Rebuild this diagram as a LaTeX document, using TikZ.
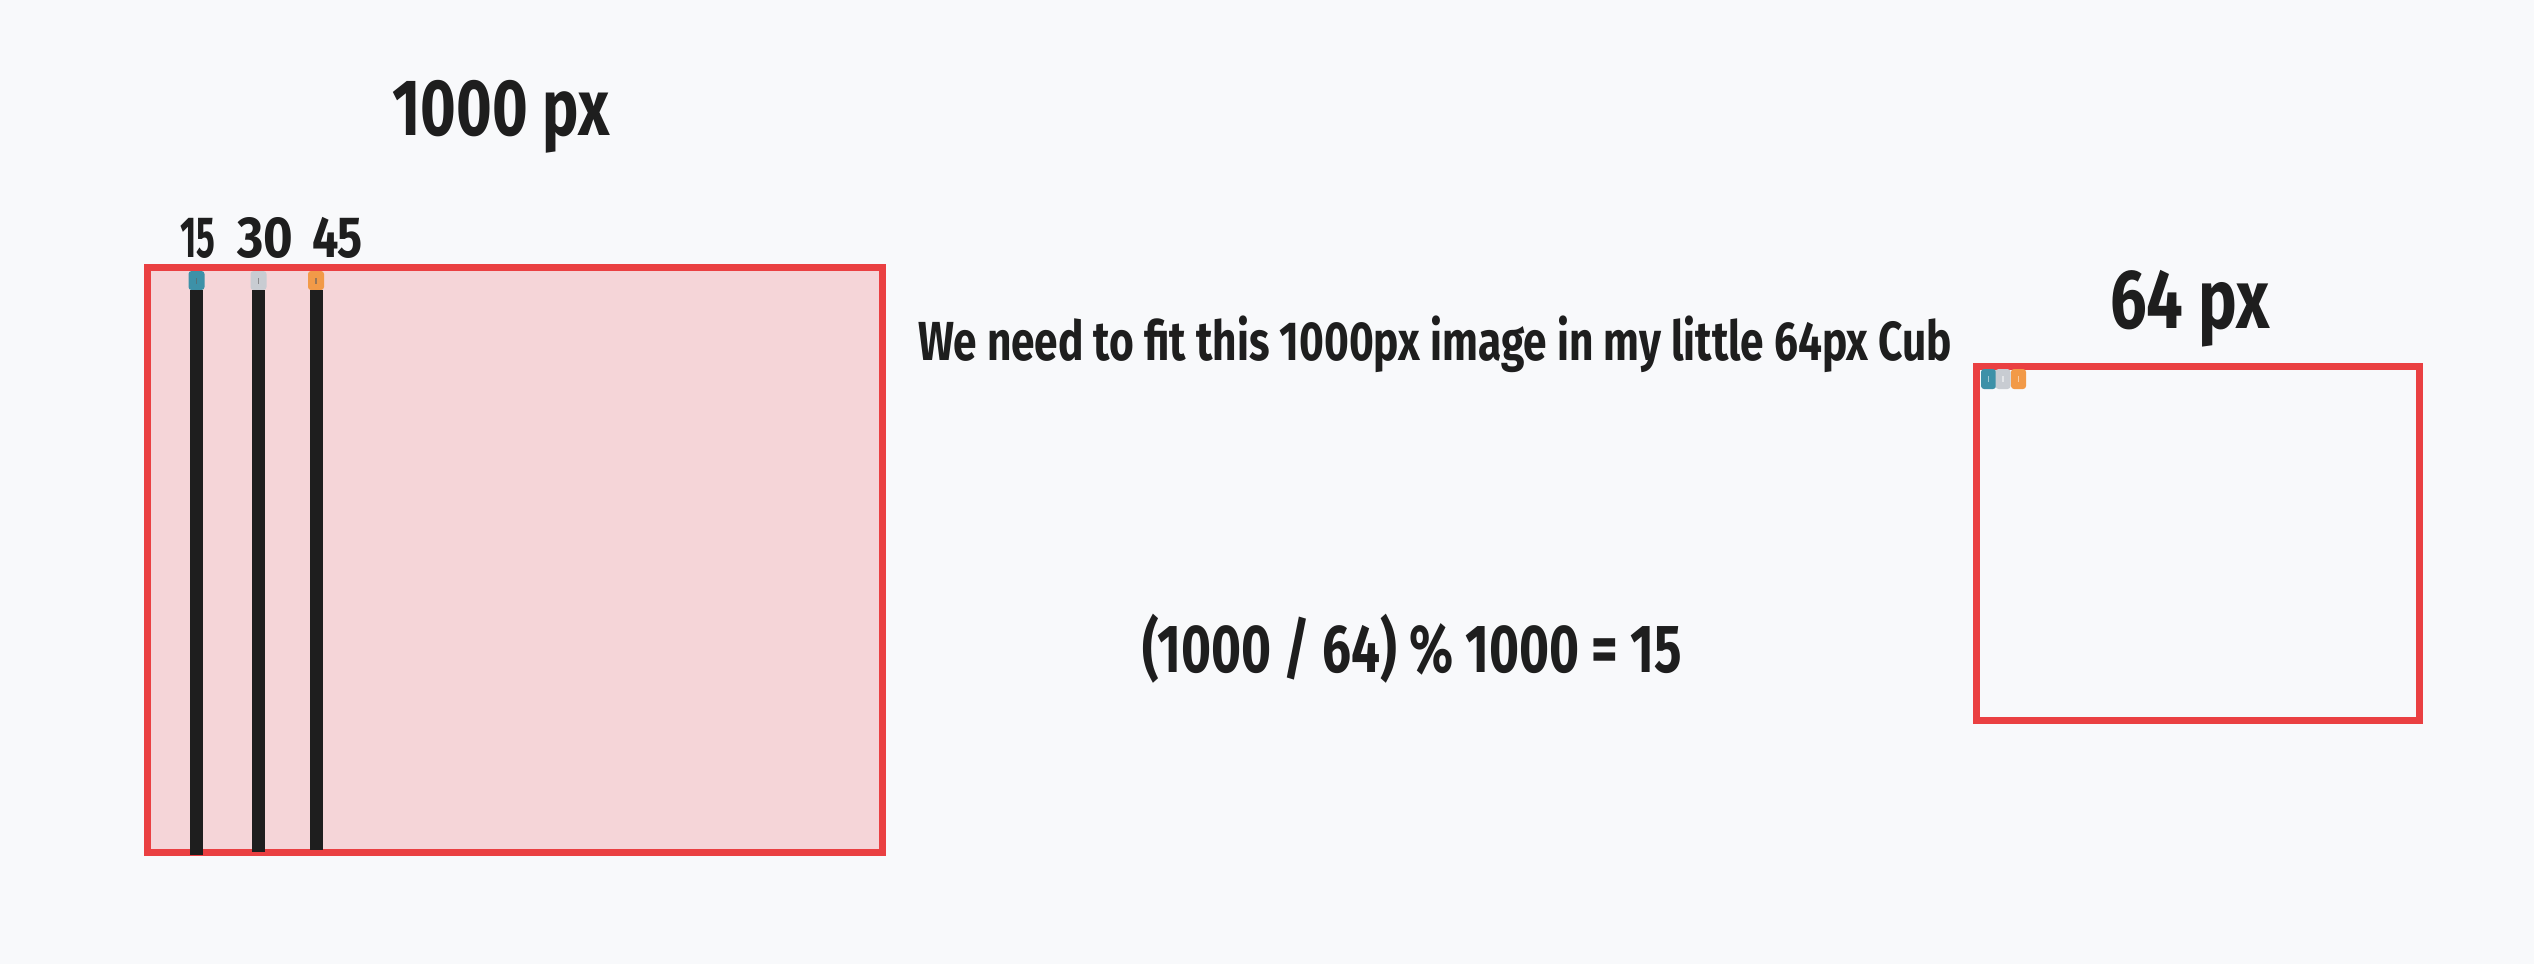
\documentclass[tikz,border=0pt]{standalone}
\usepackage{fontspec}
\usepackage{graphicx}
\newfontfamily\hand{Fira Sans}
\definecolor{bg}{HTML}{F8F9FB}
\definecolor{redline}{HTML}{EA4042}
\definecolor{pinkfill}{HTML}{F5D5D8}
\definecolor{ink}{HTML}{1E1E1E}
\definecolor{tealc}{HTML}{3D91A8}
\definecolor{grayc}{HTML}{C8CCD2}
\definecolor{orangec}{HTML}{F29A48}
\newcommand\fitw[3]{\resizebox{#1}{\height}{\fontsize{#2}{#2}\selectfont\hand\bfseries #3}}
\tikzset{
  frame/.style={draw=redline, line width=7pt, inner sep=0pt, outer sep=0pt},
  pix/.style={rounded corners=3pt, inner sep=0pt, outer sep=0pt, minimum width=16pt, minimum height=19pt},
  bar/.style={draw=ink, line width=13pt, line cap=butt},
  label/.style={text=ink, inner sep=0pt, anchor=base},
  tick/.style={line width=1.2pt}
}
\begin{document}
\begin{tikzpicture}[x=1pt,y=-1pt]
\fill[bg] (0,0) rectangle (2534,964);
\useasboundingbox (0,0) rectangle (2534,964);

% big image frame
\node[frame, fill=pinkfill, minimum width=735pt, minimum height=585pt] (big) at (515,560) {};

% pixel samples on big image
\node[pix, fill=tealc] (s1) at (196.5,280.5) {};
\node[pix, fill=grayc] (s2) at (258.5,280.5) {};
\node[pix, fill=orangec] (s3) at (316,280.5) {};
\coordinate (e1) at (196.5,855);
\coordinate (e2) at (258.5,852);
\coordinate (e3) at (316,850);
\draw[bar] (s1.south) -- (e1);
\draw[bar] (s2.south) -- (e2);
\draw[bar] (s3.south) -- (e3);
\foreach \s in {s1,s2,s3}{\draw[tick, ink!70, opacity=0.6] ([yshift=-3pt]\s.center) -- ([yshift=3pt]\s.center);}

% small frame
\node[frame, minimum width=443pt, minimum height=354pt] (small) at (2198,543.5) {};
\node[pix, fill=tealc, minimum width=15pt, minimum height=20pt] (t1) at (1988.5,379) {};
\node[pix, fill=grayc, minimum width=15pt, minimum height=20pt] (t2) at (2003,379) {};
\node[pix, fill=orangec, minimum width=15pt, minimum height=20pt] (t3) at (2018.5,379) {};
\foreach \s in {t1,t2,t3}{\draw[tick, white, opacity=0.5] ([yshift=-3pt]\s.center) -- ([yshift=3pt]\s.center);}

% labels
\node[label] (l1000) at (501,135) {\fitw{217pt}{80}{1000 px}};
\node[label] (l64) at (2190,328) {\fitw{160pt}{84}{64 px}};
\node[label] (n15) at (197.5,257) {\fitw{35pt}{58}{15}};
\node[label] (n30) at (265,257) {\fitw{56pt}{58}{30}};
\node[label] (n45) at (337.5,257) {\fitw{51pt}{58}{45}};
\node[label] (msg) at (1435,360) {\fitw{1034pt}{55}{We need to fit this 1000px image in my little 64px Cub}};
\node[label] (eq) at (1412,672) {\fitw{540pt}{68}{(1000 / 64) \% 1000 = 15}};
\end{tikzpicture}
\end{document}
